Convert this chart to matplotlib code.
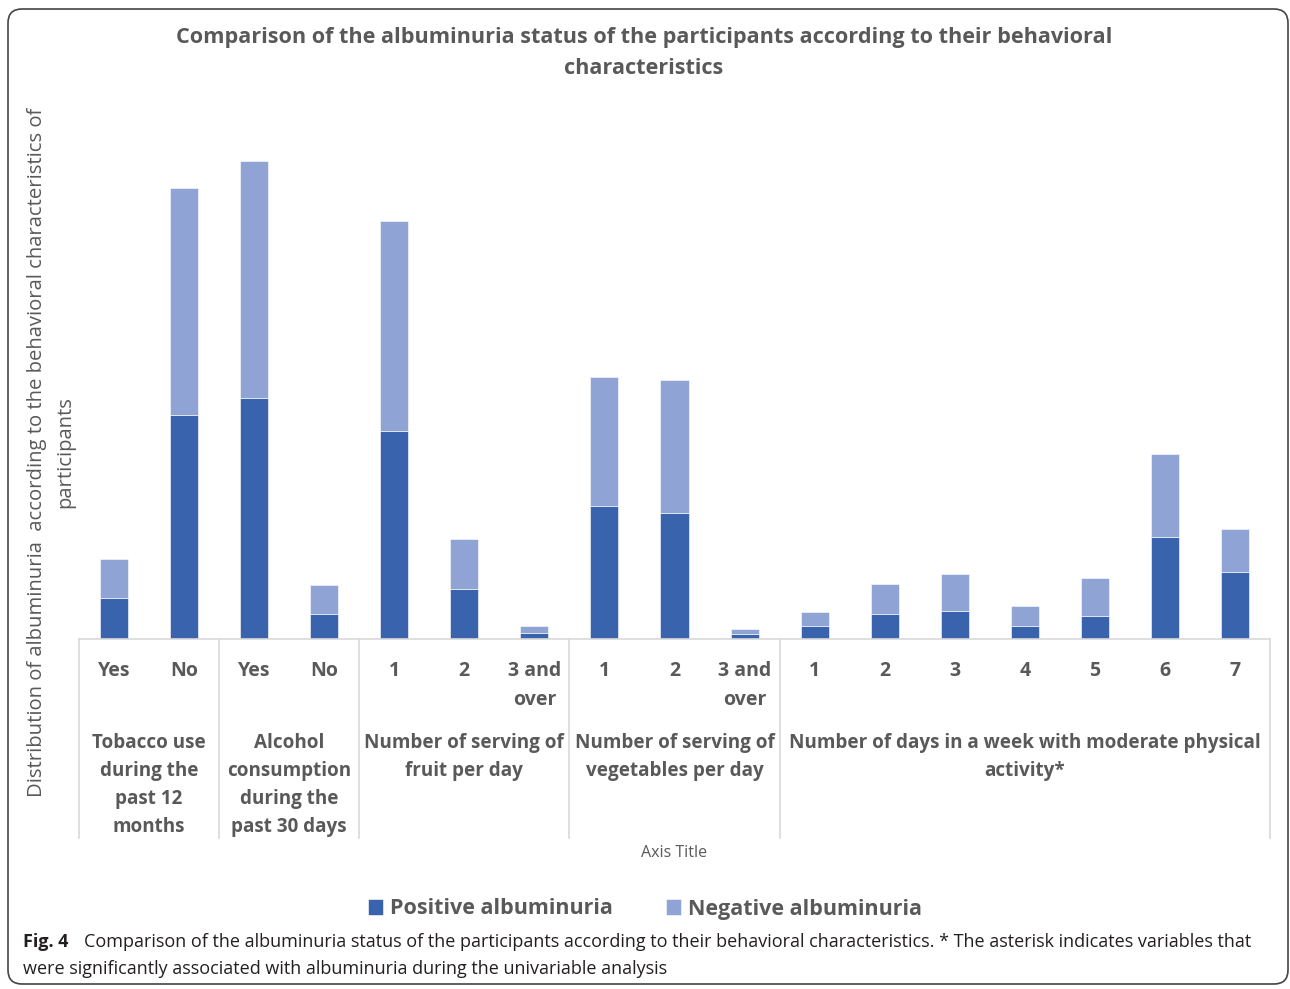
import numpy as np
import matplotlib
matplotlib.use('Agg')
import matplotlib.pyplot as plt
from matplotlib.patches import FancyBboxPatch
import matplotlib.transforms as mtransforms

plt.rcParams['font.family'] = ['Open Sans', 'DejaVu Sans']

# values (bar heights, arbitrary units)
tick_labels = ['Yes', 'No', 'Yes', 'No', '1', '2', '3 and\nover', '1', '2', '3 and\nover',
               '1', '2', '3', '4', '5', '6', '7']
positive = [41, 224, 241, 25, 208, 50, 6, 133, 126, 5, 13, 25, 28, 13, 23, 102, 67]
negative = [39, 227, 237, 29, 210, 50, 7, 129, 133, 5, 14, 30, 37, 20, 38, 83, 43]
groups = ['Tobacco use\nduring the\npast 12\nmonths',
          'Alcohol\nconsumption\nduring the\npast 30 days',
          'Number of serving of\nfruit per day',
          'Number of serving of\nvegetables per day',
          'Number of days in a week with moderate physical\nactivity*']
group_sizes = [2, 2, 3, 3, 7]

c_pos = '#3A63AD'
c_neg = '#8FA3D4'
grey = '#595959'
lgrey = '#D9D9D9'

W, H = 1290, 989
fig = plt.figure(figsize=(W / 100, H / 100), dpi=100)

# frame and free text in pixel coordinates
bg = fig.add_axes([0, 0, 1, 1])
bg.set_xlim(0, W)
bg.set_ylim(H, 0)
bg.axis('off')
bg.add_patch(FancyBboxPatch((8, 9), W - 10, H - 14, boxstyle='round,pad=0,rounding_size=14',
                            fc='none', ec='#444444', lw=1.2))

bg.text(644, 37, 'Comparison of the albuminuria status of the participants according to their behavioral',
        ha='center', va='center', fontsize=15.6, fontweight='bold', color=grey)
bg.text(644, 68, 'characteristics', ha='center', va='center', fontsize=15.6, fontweight='bold', color=grey)
bg.text(37, 452, 'Distribution of albuminuria  according to the behavioral characteristics of',
        rotation=90, ha='center', va='center', fontsize=14.6, color=grey)
bg.text(65, 452, 'participants', rotation=90, ha='center', va='center', fontsize=14.6, color=grey)
bg.text(674, 853, 'Axis Title', ha='center', va='center', fontsize=11.5, color=grey)

bg.text(23, 942, 'Fig. 4', ha='left', va='center', fontsize=13, fontweight='bold', color='#231F20')
bg.text(84, 942, 'Comparison of the albuminuria status of the participants according to their behavioral '
        'characteristics. * The asterisk indicates variables that',
        ha='left', va='center', fontsize=13, color='#231F20')
bg.text(23, 969, 'were significantly associated with albuminuria during the univariable analysis',
        ha='left', va='center', fontsize=13, color='#231F20')

# bar chart
ax = fig.add_axes([79 / W, 1 - 639 / H, 1191 / W, 539 / H])
x = np.arange(len(tick_labels))
b1 = ax.bar(x, positive, width=0.4, color=c_pos, edgecolor='white', linewidth=0.4,
            label='Positive albuminuria')
b2 = ax.bar(x, negative, width=0.4, bottom=positive, color=c_neg, edgecolor='white', linewidth=0.4,
            label='Negative albuminuria')
ax.set_xlim(-0.5, len(tick_labels) - 0.5)
ax.set_ylim(0, 539)
for s in ['top', 'right', 'left']:
    ax.spines[s].set_visible(False)
ax.spines['bottom'].set_color(lgrey)
ax.spines['bottom'].set_linewidth(1.2)
ax.set_yticks([])
ax.set_xticks([])

# multi-level category axis
trans = mtransforms.blended_transform_factory(ax.transData, ax.transAxes)
px = 1 / 539  # one pixel in axes fraction (vertical)
for xi, lab in zip(x, tick_labels):
    ax.text(xi, -22 * px, lab, transform=trans, ha='center', va='top', fontsize=14,
            fontweight='bold', color=grey, linespacing=1.57, clip_on=False)
start = 0
edges = [-0.5]
for g, n in zip(groups, group_sizes):
    mid = start + (n - 1) / 2
    ax.text(mid, -94 * px, g, transform=trans, ha='center', va='top', fontsize=13.6,
            fontweight='bold', color=grey, linespacing=1.53, clip_on=False)
    start += n
    edges.append(start - 0.5)
for e in edges:
    ax.plot([e, e], [0, -199 * px], transform=trans, color=lgrey, lw=1.2, clip_on=False)

fig.legend(handles=[b1, b2], loc='center', bbox_to_anchor=(645 / W, 1 - 909 / H), ncol=2,
           frameon=False, handlelength=0.7, handleheight=0.7, handletextpad=0.3,
           columnspacing=2.5, prop={'weight': 'bold', 'size': 15.5}, labelcolor=grey)

fig.savefig('out.png', dpi=100)
